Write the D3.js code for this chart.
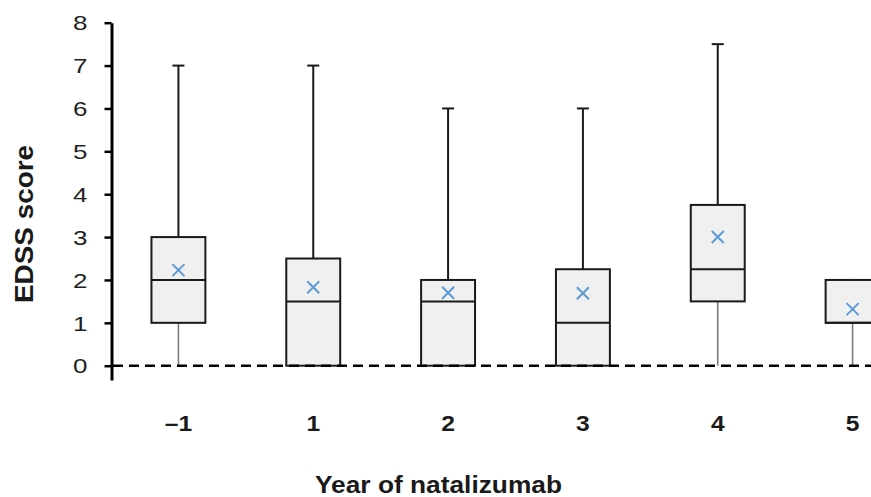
<!DOCTYPE html>
<html>
<head>
<meta charset="utf-8">
<script src="https://cdn.jsdelivr.net/npm/d3@7"></script>
<style>
  body { margin: 0; background: #fff; }
  svg { display: block; font-family: "Liberation Sans", Arial, sans-serif; }
</style>
</head>
<body>
<div id="chart"></div>
<script>
// box plot data
let years = ['\u20131', '1', '2', '3', '4', '5'];
let whiskerLow = [0, 0, 0, 0, 0, 0];
let q1 = [1, 0, 0, 0, 1.5, 1];
let median = [2, 1.5, 1.5, 1, 2.25, 1];
let q3 = [3, 2.5, 2, 2.25, 3.75, 2];
let whiskerHigh = [7, 7, 6, 6, 7.5, 2];
let means = [2.23, 1.83, 1.70, 1.69, 3.0, 1.32];
let yTicks = [0, 1, 2, 3, 4, 5, 6, 7, 8];

let width = 871, height = 497;

let svg = d3.select('#chart').append('svg')
    .attr('width', width)
    .attr('height', height);

let boxes = years.map((y, i) => ({
    year: y, low: whiskerLow[i], q1: q1[i], med: median[i],
    q3: q3[i], high: whiskerHigh[i], mean: means[i]
}));

let x = d3.scaleBand()
    .domain(years)
    .range([111, 920]);

let y = d3.scaleLinear()
    .domain([-1 / 3, 8])
    .range([380, 22.7]);

let boxW = x.bandwidth() * 0.4;
let cx = d => x(d.year) + x.bandwidth() / 2;

// y axis
let yAxis = svg.append('g')
    .attr('transform', 'translate(111.5,0)')
    .call(d3.axisLeft(y).tickValues(yTicks).tickSize(7).tickSizeOuter(0));
yAxis.select('.domain').attr('stroke', '#000').attr('stroke-width', 3);
yAxis.selectAll('.tick line').attr('stroke', '#000').attr('stroke-width', 2.5);
// labels in the figure are wide, so stretch them a little
yAxis.selectAll('.tick text')
    .attr('x', 0)
    .attr('dy', '0.36em')
    .attr('transform', 'translate(-24,0) scale(1.3,1)')
    .attr('font-size', 20)
    .attr('fill', '#1f1f1f')
    .attr('font-family', '"Liberation Sans", Arial, sans-serif');

// lower whiskers (grey)
svg.append('g').selectAll('line')
    .data(boxes)
    .enter().append('line')
    .attr('x1', cx).attr('x2', cx)
    .attr('y1', d => y(d.low)).attr('y2', d => y(d.q1))
    .attr('stroke', '#7a7a7a')
    .attr('stroke-width', 1.6);

// upper whiskers
let upper = svg.append('g');
upper.selectAll('line.stem')
    .data(boxes.filter(d => d.high > d.q3))
    .enter().append('line')
    .attr('class', 'stem')
    .attr('x1', cx).attr('x2', cx)
    .attr('y1', d => y(d.q3)).attr('y2', d => y(d.high))
    .attr('stroke', '#1a1a1a')
    .attr('stroke-width', 2);
upper.selectAll('line.cap')
    .data(boxes)
    .enter().append('line')
    .attr('class', 'cap')
    .attr('x1', d => cx(d) - 6).attr('x2', d => cx(d) + 6)
    .attr('y1', d => y(d.high)).attr('y2', d => y(d.high))
    .attr('stroke', '#1a1a1a')
    .attr('stroke-width', 2);

// boxes
let bx = svg.append('g').selectAll('g')
    .data(boxes)
    .enter().append('g');

bx.append('rect')
    .attr('x', d => cx(d) - boxW / 2)
    .attr('y', d => y(d.q3))
    .attr('width', boxW)
    .attr('height', d => y(d.q1) - y(d.q3))
    .attr('fill', '#f0f0f0')
    .attr('stroke', '#1a1a1a')
    .attr('stroke-width', 2);

bx.append('line')
    .attr('x1', d => cx(d) - boxW / 2).attr('x2', d => cx(d) + boxW / 2)
    .attr('y1', d => y(d.med)).attr('y2', d => y(d.med))
    .attr('stroke', '#1a1a1a')
    .attr('stroke-width', 2);

// mean markers
let s = 6;
bx.append('path')
    .attr('d', d => {
        let px = cx(d), py = y(d.mean);
        return `M${px - s},${py - s}L${px + s},${py + s}M${px - s},${py + s}L${px + s},${py - s}`;
    })
    .attr('stroke', '#5b9bd5')
    .attr('stroke-width', 2)
    .attr('fill', 'none');

// dashed zero line
svg.append('line')
    .attr('x1', 113).attr('x2', width)
    .attr('y1', y(0)).attr('y2', y(0))
    .attr('stroke', '#000')
    .attr('stroke-width', 2.5)
    .attr('stroke-dasharray', '10,6');

// x labels
svg.append('g').selectAll('text')
    .data(years)
    .enter().append('text')
    .attr('transform', d => `translate(${x(d) + x.bandwidth() / 2},431) scale(1.12,1)`)
    .attr('text-anchor', 'middle')
    .attr('font-size', 22)
    .attr('font-weight', 'bold')
    .attr('fill', '#1a1a1a')
    .text(d => d);

// axis titles
svg.append('text')
    .attr('x', 315)
    .attr('y', 493)
    .attr('textLength', 247)
    .attr('lengthAdjust', 'spacingAndGlyphs')
    .attr('font-size', 24)
    .attr('font-weight', 'bold')
    .attr('fill', '#1a1a1a')
    .text('Year of natalizumab');

svg.append('text')
    .attr('transform', 'translate(33,303) rotate(-90)')
    .attr('textLength', 158)
    .attr('lengthAdjust', 'spacingAndGlyphs')
    .attr('font-size', 26)
    .attr('font-weight', 'bold')
    .attr('fill', '#1a1a1a')
    .text('EDSS score');
</script>
</body>
</html>
